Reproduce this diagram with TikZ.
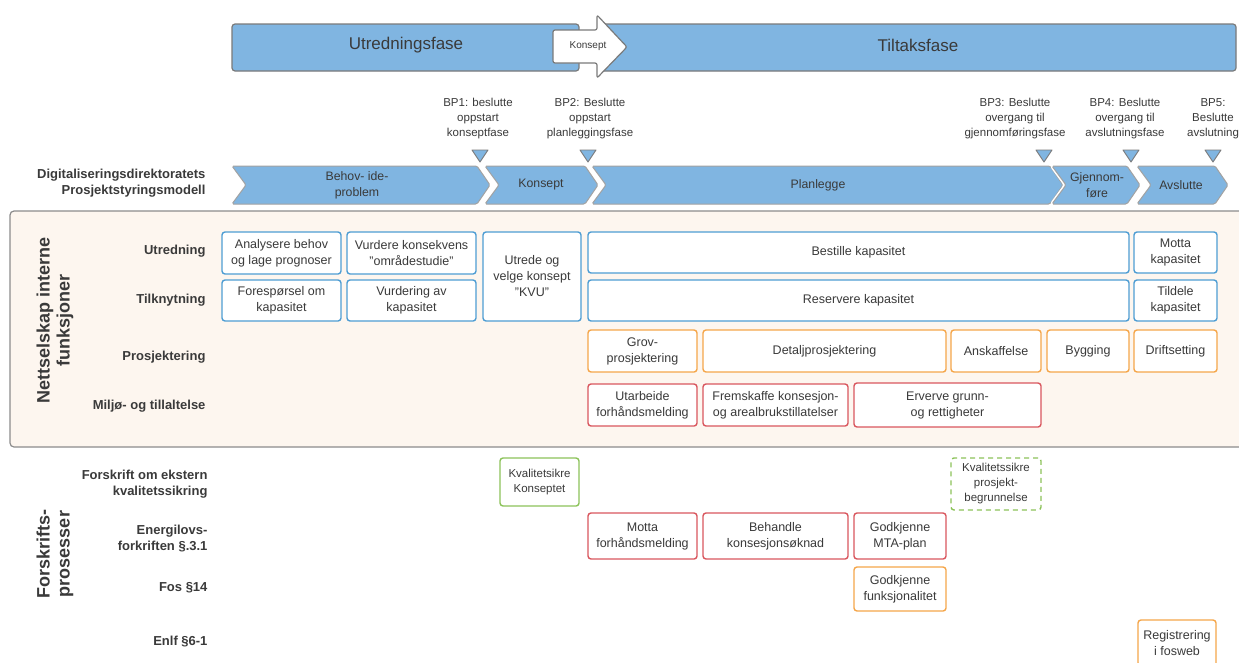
\documentclass[tikz,border=0pt]{standalone}
\usepackage{fontspec}
\setmainfont{Liberation Sans}
\definecolor{phase}{HTML}{80B5E1}
\definecolor{pbord}{HTML}{7A7A7A}
\definecolor{txt}{HTML}{3A3A3A}
\definecolor{bbord}{HTML}{4E9DD3}
\definecolor{obord}{HTML}{F5A64A}
\definecolor{rbord}{HTML}{D9575E}
\definecolor{gbord}{HTML}{8CC35A}
\definecolor{framefill}{HTML}{FDF6EF}
\definecolor{framedraw}{HTML}{8C8C8C}
\newcommand\bx[7]{\node[#6, minimum width={(#4)-(#2)}, minimum height={(#5)-(#3)}] (#1) at ({((#2)+(#4))/2},{((#3)+(#5))/2}) {#7};}
\newcommand\chev[5]{% name, x1, x2(tip), text x, text
  \draw[chevwhite] (#2,166) -- ({#3-13},166) -- (#3,185) -- ({#3-13},204) -- (#2,204) -- ({#2+14},185) -- cycle;
  \draw[chevron] (#2,166) -- ({#3-13},166) -- (#3,185) -- ({#3-13},204) -- (#2,204) -- ({#2+14},185) -- cycle;
  \node[chevtext] (#1) at (#4,185) {#5};}
\newcommand\bptri[2]{\draw[tri] ({#2-8},150) -- ({#2+8},150) -- (#2,162) -- cycle;}
\begin{document}
\begin{tikzpicture}[x=1pt,y=-1pt,
  box/.style={draw, rounded corners=3pt, line width=1.4pt, fill=white, align=center, inner sep=1pt, outer sep=0pt, font=\fontsize{12.5}{16}\selectfont, text=txt},
  bluebox/.style={box, draw=bbord},
  orbox/.style={box, draw=obord},
  redbox/.style={box, draw=rbord},
  grbox/.style={box, draw=gbord},
  grdash/.style={box, draw=gbord, dashed, dash pattern=on 5pt off 4pt},
  rowlab/.style={anchor=east, align=right, font=\bfseries\fontsize{13}{16}\selectfont, text=txt},
  vlab/.style={rotate=90, align=center, font=\bfseries\fontsize{18}{20}\selectfont, text=txt},
  chevwhite/.style={draw=white, line width=4pt, rounded corners=1.5pt, line join=round},
  chevron/.style={draw=pbord!70, fill=phase, line width=1pt, rounded corners=1.5pt},
  chevtext/.style={align=center, font=\fontsize{12.3}{16}\selectfont, text=txt},
  bptext/.style={align=center, font=\fontsize{11.5}{15}\selectfont, text=txt},
  tri/.style={draw=pbord, fill=phase, line width=0.9pt, line join=round},
  phasebox/.style={draw=pbord, fill=phase, line width=1.2pt, rounded corners=3pt},
]
\useasboundingbox (0,0) rectangle (1239,662);
\fill[white] (0,0) rectangle (1239,662);

% top phase bar
\draw[phasebox] (232,24) rectangle (579,71);
\draw[phasebox] (598,24) rectangle (1236,71);
\node[font=\fontsize{17}{20}\selectfont, text=txt] (utr) at (406,45) {Utredningsfase};
\node[font=\fontsize{17}{20}\selectfont, text=txt] (tilt) at (918,45) {Tiltaksfase};
\draw[draw=pbord, fill=white, line width=1.2pt, rounded corners=2pt, line join=round]
  (553,30) -- (597,30) -- (597,15) -- (627,47) -- (597,78) -- (597,63) -- (553,63) -- cycle;
\node[font=\fontsize{10}{12}\selectfont, text=txt] (konsarrow) at (588,46) {Konsept};

% BP labels
\node[bptext] (bp1) at (478,119) {BP1: beslutte\\oppstart\\konseptfase};
\node[bptext] (bp2) at (590,119) {BP2: Beslutte\\oppstart\\planleggingsfase};
\node[bptext] (bp3) at (1015,119) {BP3: Beslutte\\overgang til\\gjennomføringsfase};
\node[bptext] (bp4) at (1125,119) {BP4: Beslutte\\overgang til\\avslutningsfase};
\node[bptext] (bp5) at (1213,119) {BP5:\\Beslutte\\avslutning};
\bptri{t1}{480}
\bptri{t2}{588}
\bptri{t3}{1044}
\bptri{t4}{1131}
\bptri{t5}{1213}

% model row
\node[rowlab] (dig) at (209,183) {Digitaliseringsdirektoratets\\Prosjektstyringsmodell};
\chev{c1}{232}{490}{357}{Behov- ide-\\problem}
\chev{c2}{485}{598}{541}{Konsept}
\chev{c3}{592}{1063}{818}{Planlegge}
\chev{c4}{1052}{1140}{1097}{Gjennom-\\føre}
\chev{c5}{1137}{1228}{1181}{Avslutte}

% internal frame
\draw[draw=framedraw, fill=framefill, line width=1.2pt, rounded corners=4pt] (10,211) rectangle (1252,447);
\node[vlab] (netlab) at (55,320) {Nettselskap interne\\funksjoner};
\node[rowlab] (r1) at (209,251) {Utredning};
\node[rowlab] (r2) at (209,300) {Tilknytning};
\node[rowlab] (r3) at (209,357) {Prosjektering};
\node[rowlab] (r4) at (209,406) {Miljø- og tillaltelse};

\bx{a1}{222}{232}{341}{274}{bluebox}{Analysere behov\\og lage prognoser}
\bx{a2}{347}{232}{476}{274}{bluebox}{Vurdere konsekvens\\"områdestudie"}
\bx{a3}{222}{280}{341}{321}{bluebox}{Forespørsel om\\kapasitet}
\bx{a4}{347}{280}{476}{321}{bluebox}{Vurdering av\\kapasitet}
\bx{a5}{483}{232}{581}{321}{bluebox}{Utrede og\\velge konsept\\"KVU"}
\bx{a6}{588}{232}{1129}{273}{bluebox}{Bestille kapasitet}
\bx{a7}{588}{280}{1129}{321}{bluebox}{Reservere kapasitet}
\bx{a8}{1134}{232}{1217}{273}{bluebox}{Motta\\kapasitet}
\bx{a9}{1134}{280}{1217}{321}{bluebox}{Tildele\\kapasitet}

\bx{p1}{588}{330}{697}{372}{orbox}{Grov-\\prosjektering}
\bx{p2}{703}{330}{946}{372}{orbox}{Detaljprosjektering}
\bx{p3}{951}{330}{1041}{372}{orbox}{Anskaffelse}
\bx{p4}{1047}{330}{1129}{372}{orbox}{Bygging}
\bx{p5}{1134}{330}{1217}{372}{orbox}{Driftsetting}

\bx{m1}{588}{384}{697}{426}{redbox}{Utarbeide\\forhåndsmelding}
\bx{m2}{703}{384}{848}{426}{redbox}{Fremskaffe konsesjon-\\og arealbrukstillatelser}
\bx{m3}{854}{383}{1041}{427}{redbox}{Erverve grunn-\\og rettigheter}

% regulatory processes
\node[vlab] (forlab) at (55,554) {Forskrifts-\\prosesser};
\node[rowlab] (f1) at (211,484) {Forskrift om ekstern\\kvalitetssikring};
\node[rowlab] (f2) at (211,539) {Energilovs-\\forkriften §.3.1};
\node[rowlab] (f3) at (211,588) {Fos §14};
\node[rowlab] (f4) at (211,642) {Enlf §6-1};

\bx{q1}{500}{458}{579}{506}{grbox, font=\fontsize{11.5}{15}\selectfont}{Kvalitetsikre\\Konseptet}
\bx{q2}{951}{458}{1041}{510}{grdash, font=\fontsize{11.5}{15}\selectfont}{Kvalitetssikre\\prosjekt-\\begrunnelse}
\bx{e1}{588}{513}{697}{559}{redbox}{Motta\\forhåndsmelding}
\bx{e2}{703}{513}{848}{559}{redbox}{Behandle\\konsesjonsøknad}
\bx{e3}{854}{513}{946}{559}{redbox}{Godkjenne\\MTA-plan}
\bx{g1}{854}{567}{946}{611}{orbox}{Godkjenne\\funksjonalitet}
\bx{g2}{1138}{620}{1216}{666}{orbox}{Registrering\\i fosweb}
\end{tikzpicture}
\end{document}
